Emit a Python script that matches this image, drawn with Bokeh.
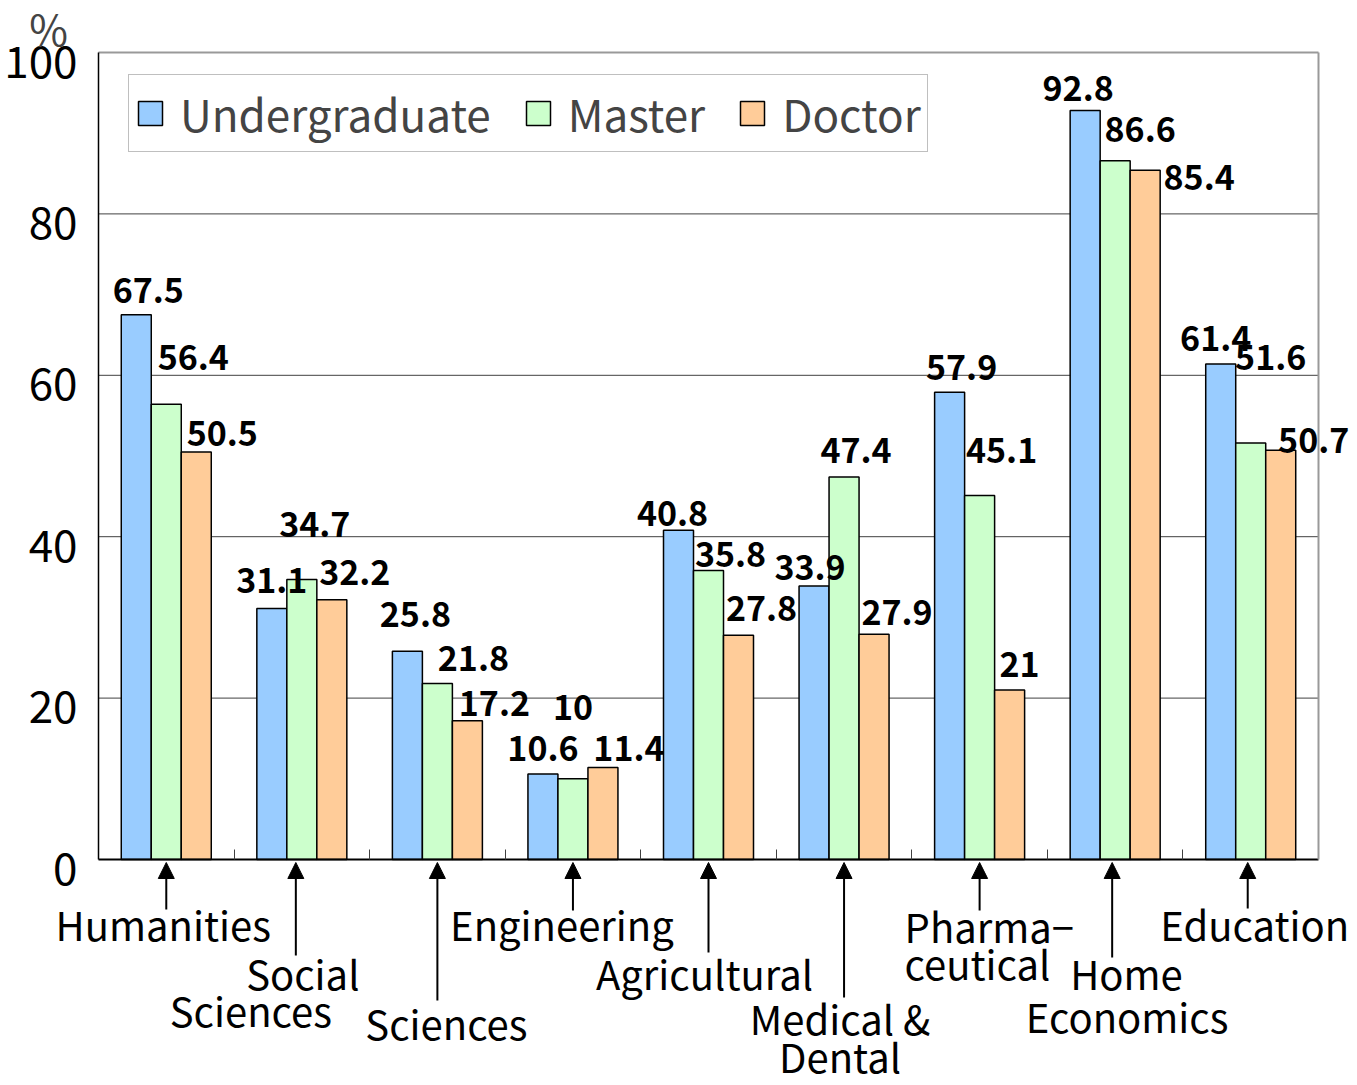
import numpy as np
from bokeh.plotting import figure
from bokeh.models import (ColumnDataSource, Range1d, FixedTicker, LabelSet, Label,
                          Arrow, NormalHead, Legend, LegendItem, LinearAxis)
from bokeh.core.properties import value
from bokeh.embed import file_html
from bokeh.resources import INLINE

# ---------------- data ----------------
categories = ["Humanities", "Social Sciences", "Sciences", "Engineering", "Agricultural",
              "Medical & Dental", "Pharmaceutical", "Home Economics", "Education"]
undergraduate = [67.5, 31.1, 25.8, 10.6, 40.8, 33.9, 57.9, 92.8, 61.4]
master = [56.4, 34.7, 21.8, 10, 35.8, 47.4, 45.1, 86.6, 51.6]
doctor = [50.5, 32.2, 17.2, 11.4, 27.8, 27.9, 21, 85.4, 50.7]
series_names = ["Undergraduate", "Master", "Doctor"]
y_ticks = [0, 20, 40, 60, 80, 100]

# category label lines (text and the group each belongs to)
cat_lines = ["Humanities", "Social", "Sciences", "Sciences", "Engineering", "Agricultural",
             "Medical &", "Dental", "Pharma\u2212", "ceutical", "Home", "Economics", "Education"]
cat_line_group = [0, 1, 1, 2, 3, 4, 5, 5, 6, 6, 7, 7, 8]

# ---------------- layout / style ----------------
FONT = "Noto Sans CJK JP"
colors = ["#99CCFF", "#CCFFCC", "#FFCC99"]
W, H = 1355, 1083
AX_L, AX_R = 98, 1318      # canvas x of category 0 .. 9
AX_T, AX_B = 52, 859       # canvas y of value 100 .. 0
NCAT = len(categories)
px_x = (AX_R - AX_L) / NCAT
px_y = (AX_B - AX_T) / 100.0
bar_w = 30 / px_x
offsets = [-bar_w, 0, bar_w]
TICK_LABEL_DROP = 9        # px the value-axis labels sit below their ticks

# value label offsets (px, right / down) relative to bar top centre
lab_dx = [[12, 0, 8, 0, -6, -4, 12, -7, -5],
          [27, 13, 36, 0, 22, 12, 22, 25, 20],
          [26, 23, 27, 26, 23, 23, 10, 54, 33]]
lab_dy = [[-24, -28, -37, -25, -17, -18, -25, -22, -26],
          [-47, -55, -25, -71, -16, -26, -45, -31, -86],
          [-18, -27, -17, -19, -27, -22, -26, 7, -10]]

# category label placement (px from group centre, px below axis)
cat_dx = [-3, 1, -51, 9, -11, -4, -4, -4, -75, -75, -45, 12, 4]
cat_dy = [64, 113, 150, 163, 64, 113, 158, 196, 66, 103, 113, 156, 64]
cat_align = ["center"] * 8 + ["left", "left", "left", "center", "center"]

# arrows: px from group centre, bottom end px below axis
arr_dx = [0, -6, 0, 0, 0, 0, 0, -3, -3]
arr_end = [50, 96, 141, 51, 93, 138, 51, 98, 49]
arr_tip = 3

y0, y1 = -(H - AX_B) / px_y, 100 + AX_T / px_y
x_range = Range1d(-AX_L / px_x, NCAT + (W - AX_R) / px_x)
y_range = Range1d(y0, y1)

p = figure(width=W, height=H, x_range=x_range, y_range=y_range, title=None,
           x_axis_location=None, y_axis_location=None,
           output_backend="svg", toolbar_location=None,
           min_border_left=0, min_border_right=0, min_border_top=0, min_border_bottom=0)
p.background_fill_color = "white"
p.border_fill_color = "white"
p.outline_line_color = None
for g in p.grid:
    g.visible = False
shift = TICK_LABEL_DROP / px_y
p.extra_y_ranges = {"ticklab": Range1d(y0 + shift, y1 + shift)}

# grid lines across the category span
p.segment(x0=[0] * 4, x1=[NCAT] * 4, y0=y_ticks[1:-1], y1=y_ticks[1:-1],
          line_color="#404040", line_width=1, level="underlay")

xc = np.arange(NCAT) + 0.5
series = [undergraduate, master, doctor]
renderers = []
for k, vals in enumerate(series):
    src = ColumnDataSource(dict(
        x=xc + offsets[k], top=vals,
        label=[f"{v:g}" for v in vals],
        dx=lab_dx[k], dy=[-d for d in lab_dy[k]]))
    r = p.vbar(x="x", top="top", bottom=0, width=bar_w, source=src,
               fill_color=colors[k], line_color="black", line_width=1.5)
    renderers.append(r)
    p.add_layout(LabelSet(x="x", y="top", text="label", x_offset="dx", y_offset="dy",
                          source=src, text_font=value(FONT), text_font_size="34px",
                          text_font_style="bold", text_align="center",
                          text_baseline="middle", text_color="black"))

# value axis line
yax = LinearAxis(fixed_location=0, bounds=(0, 100), ticker=FixedTicker(ticks=[]))
yax.major_tick_line_color = None
yax.minor_tick_line_color = None
yax.axis_line_color = "black"
yax.axis_line_width = 1.5
p.add_layout(yax, "left")

# value axis tick labels (slightly lowered, as in the original)
ylab = LinearAxis(fixed_location=0, y_range_name="ticklab", bounds=(0, 100),
                  ticker=FixedTicker(ticks=y_ticks))
ylab.major_label_text_font = FONT
ylab.major_label_text_font_size = "44px"
ylab.major_label_text_color = "black"
ylab.major_label_standoff = 15
ylab.major_tick_line_color = None
ylab.minor_tick_line_color = None
ylab.axis_line_color = None
p.add_layout(ylab, "left")

xax = LinearAxis(fixed_location=0, bounds=(0, NCAT), ticker=FixedTicker(ticks=list(range(1, NCAT))))
xax.major_label_overrides = {i: "" for i in range(1, NCAT)}
xax.major_tick_in = 10
xax.major_tick_out = 0
xax.major_tick_line_color = "#404040"
xax.minor_tick_line_color = None
xax.axis_line_color = "black"
xax.axis_line_width = 2
p.add_layout(xax, "below")

tax = LinearAxis(fixed_location=100, bounds=(0, NCAT), ticker=FixedTicker(ticks=[]))
tax.major_tick_line_color = None
tax.minor_tick_line_color = None
tax.axis_line_color = "#999999"
tax.axis_line_width = 2
p.add_layout(tax, "above")

rax = LinearAxis(fixed_location=NCAT, bounds=(0, 100), ticker=FixedTicker(ticks=[]))
rax.major_tick_line_color = None
rax.minor_tick_line_color = None
rax.axis_line_color = "#999999"
rax.axis_line_width = 2
p.add_layout(rax, "right")

# legend
legend = Legend(items=[LegendItem(label=n, renderers=[r]) for n, r in zip(series_names, renderers)],
                orientation="horizontal", location=(128, H - 152),
                label_text_font=FONT, label_text_font_size="44px",
                glyph_width=30, glyph_height=30, label_standoff=15, spacing=32,
                padding=6, margin=0, border_line_color="#808080", border_line_width=1.5,
                background_fill_color="white", background_fill_alpha=1)
p.add_layout(legend)

# category labels
csrc = ColumnDataSource(dict(
    x=[xc[g] for g in cat_line_group], y=[0] * len(cat_lines), text=cat_lines,
    dx=cat_dx, dy=[-d for d in cat_dy], align=cat_align))
p.add_layout(LabelSet(x="x", y="y", text="text", x_offset="dx", y_offset="dy", source=csrc,
                      text_font=value(FONT), text_font_size="40px", text_align="align",
                      text_baseline="middle", text_color="black"))

# arrows
asrc = ColumnDataSource(dict(
    x=[xc[i] + arr_dx[i] / px_x for i in range(NCAT)],
    y0=[-e / px_y for e in arr_end],
    y1=[-arr_tip / px_y] * NCAT))
p.add_layout(Arrow(x_start="x", y_start="y0", x_end="x", y_end="y1", source=asrc,
                   line_color="black", line_width=2,
                   end=NormalHead(size=16, fill_color="black", line_color="black")))

# percent sign
p.add_layout(Label(x=0, y=100, x_offset=-50, y_offset=25, text="%", text_font=FONT,
                   text_font_size="42px", text_align="center", text_baseline="middle"))

open("out.html", "w").write(file_html(p, INLINE))
